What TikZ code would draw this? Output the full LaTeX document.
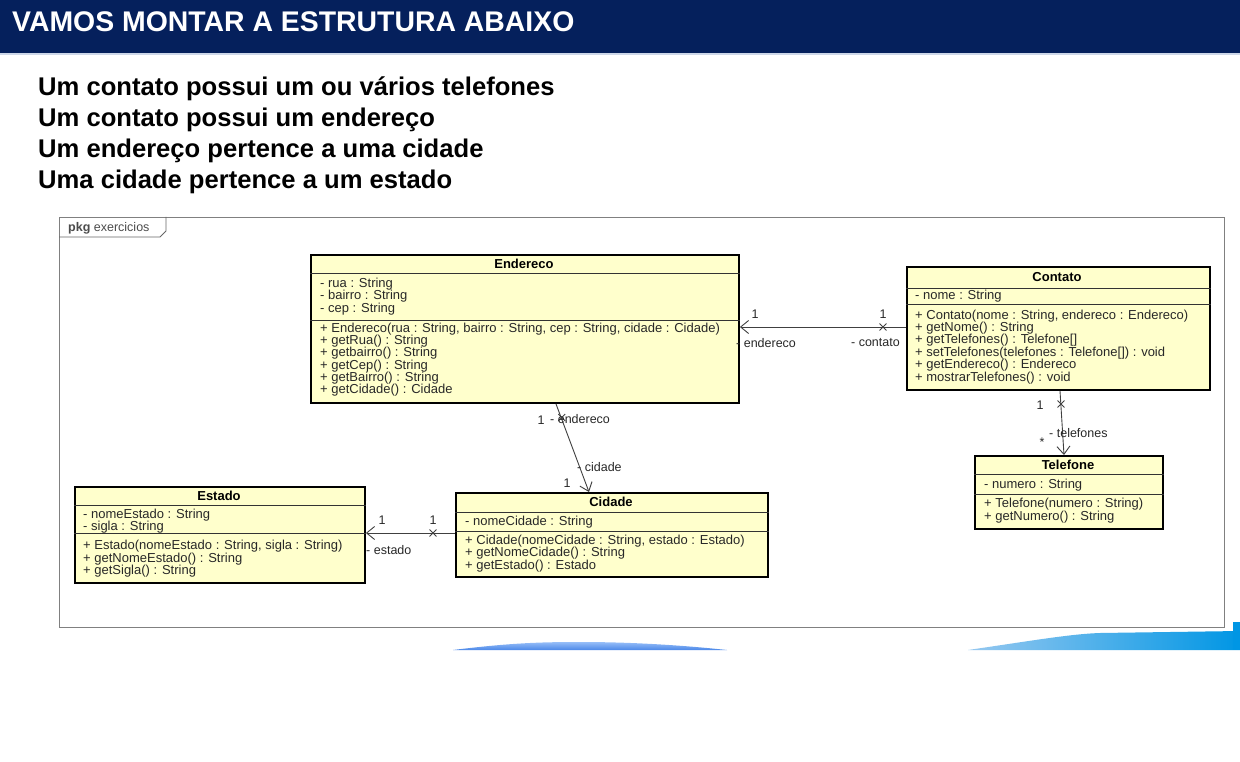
\documentclass[tikz,border=0pt]{standalone}
\usepackage{fontspec}
\setmainfont{Liberation Sans}
\usetikzlibrary{arrows.meta,shapes.misc}
\definecolor{navy}{RGB}{5,32,92}
\definecolor{umlfill}{RGB}{255,255,204}
\definecolor{umltext}{RGB}{40,40,40}
\definecolor{lineblue}{RGB}{205,215,232}
\definecolor{swA}{RGB}{150,190,248}
\definecolor{swB}{RGB}{75,135,232}
\definecolor{swC}{RGB}{150,200,240}
\definecolor{swD}{RGB}{0,150,228}
\begin{document}
\begin{tikzpicture}[x=1pt,y=-1pt,
  classbox/.style={draw=black, line width=1.9pt, fill=umlfill, inner sep=0pt, anchor=north west},
  member/.style={anchor=west, inner sep=0pt, font=\fontsize{13}{13}\selectfont, text=umltext},
  ctitle/.style={inner sep=0pt, font=\fontsize{13}{13}\selectfont\bfseries},
  divider/.style={line width=0.8pt, draw=black!80},
  assoc/.style={line width=0.9pt, draw=black!75, -{Straight Barb[length=8pt,width=13pt,line width=0.9pt]}},
  xmark/.style={cross out, draw=black!75, line width=0.9pt, minimum size=6pt, inner sep=0pt},
  lbl/.style={inner sep=0pt, font=\fontsize{12.5}{12.5}\selectfont, text=umltext},
  bigline/.style={anchor=base west, inner sep=0pt, font=\fontsize{25.6}{25.6}\selectfont\bfseries}
]
\useasboundingbox (0,0) rectangle (1240,762);
\fill[white] (0,0) rectangle (1240,762);

% header
\fill[navy] (0,0) rectangle (1240,53);
\draw[lineblue, line width=1.5pt] (0,54) -- (1240,54);
\node[anchor=base west, inner sep=0pt, text=white, font=\fontsize{28.4}{28.4}\selectfont\bfseries] (title) at (12,32) {VAMOS MONTAR A ESTRUTURA ABAIXO};

% statements
\node[bigline] (l1) at (38,96) {Um contato possui um ou vários telefones};
\node[bigline] (l2) at (38,127) {Um contato possui um endereço};
\node[bigline] (l3) at (38,158) {Um endereço pertence a uma cidade};
\node[bigline] (l4) at (38,189) {Uma cidade pertence a um estado};

% package frame
\node[draw=black!50, line width=1pt, minimum width=1165pt, minimum height=410pt, inner sep=0pt, anchor=north west] (pkg) at (59,217) {};
\draw[black!60, line width=0.9pt] (pkg.north west |- 0,237) -- (160,237) -- (166,231) -- (166,217);
\node[anchor=base west, inner sep=0pt, font=\fontsize{12.5}{12.5}\selectfont, text=black!70] (pkgname) at (68,232) {\textbf{pkg} exercicios};

% swooshes
\shade[top color=swA, bottom color=swB] (453,650) .. controls (510,643) and (540,642) .. (580,642) .. controls (630,642) and (680,645) .. (727,650) -- cycle;
\shade[left color=swC, right color=swD] (968,650) .. controls (1030,641) and (1070,634) .. (1100,633) -- (1240,631) -- (1240,650) -- cycle;
\fill[swD] (1233,622) rectangle (1240,650);

% Endereco
\node[classbox, minimum width=428pt, minimum height=148pt] (endereco) at (310,254) {};
\draw[divider] (endereco.west |- 0,273) -- (endereco.east |- 0,273);
\draw[divider] (endereco.west |- 0,320) -- (endereco.east |- 0,320);
\node[ctitle] (enderecoT) at (524,264) {Endereco};
\node[member] (e1) at (320,284) {- rua : String};
\node[member] (e2) at (320,296) {- bairro : String};
\node[member] (e3) at (320,309) {- cep : String};
\node[member] (e4) at (320,329) {+ Endereco(rua : String, bairro : String, cep : String, cidade : Cidade)};
\node[member] (e5) at (320,341) {+ getRua() : String};
\node[member] (e6) at (320,353) {+ getbairro() : String};
\node[member] (e7) at (320,366) {+ getCep() : String};
\node[member] (e8) at (320,378) {+ getBairro() : String};
\node[member] (e9) at (320,390) {+ getCidade() : Cidade};

% Contato
\node[classbox, minimum width=303pt, minimum height=123pt] (contato) at (906,266) {};
\draw[divider] (contato.west |- 0,288) -- (contato.east |- 0,288);
\draw[divider] (contato.west |- 0,304) -- (contato.east |- 0,304);
\node[ctitle] (contatoT) at (1057,277) {Contato};
\node[member] (c1) at (915,296) {- nome : String};
\node[member] (c2) at (915,316) {+ Contato(nome : String, endereco : Endereco)};
\node[member] (c3) at (915,328) {+ getNome() : String};
\node[member] (c4) at (915,340) {+ getTelefones() : Telefone[]};
\node[member] (c5) at (915,353) {+ setTelefones(telefones : Telefone[]) : void};
\node[member] (c6) at (915,365) {+ getEndereco() : Endereco};
\node[member] (c7) at (915,378) {+ mostrarTelefones() : void};

% Telefone
\node[classbox, minimum width=188pt, minimum height=73pt] (telefone) at (974,455) {};
\draw[divider] (telefone.west |- 0,474) -- (telefone.east |- 0,474);
\draw[divider] (telefone.west |- 0,494) -- (telefone.east |- 0,494);
\node[ctitle] (telefoneT) at (1068,465) {Telefone};
\node[member] (t1) at (984,485) {- numero : String};
\node[member] (t2) at (984,504) {+ Telefone(numero : String)};
\node[member] (t3) at (984,517) {+ getNumero() : String};

% Estado
\node[classbox, minimum width=290pt, minimum height=96pt] (estado) at (74,486) {};
\draw[divider] (estado.west |- 0,505) -- (estado.east |- 0,505);
\draw[divider] (estado.west |- 0,533) -- (estado.east |- 0,533);
\node[ctitle] (estadoT) at (219,496) {Estado};
\node[member] (s1) at (83,515) {- nomeEstado : String};
\node[member] (s2) at (83,527) {- sigla : String};
\node[member] (s3) at (83,546) {+ Estado(nomeEstado : String, sigla : String)};
\node[member] (s4) at (83,559) {+ getNomeEstado() : String};
\node[member] (s5) at (83,571) {+ getSigla() : String};

% Cidade
\node[classbox, minimum width=312pt, minimum height=84pt] (cidade) at (455,492) {};
\draw[divider] (cidade.west |- 0,512) -- (cidade.east |- 0,512);
\draw[divider] (cidade.west |- 0,531) -- (cidade.east |- 0,531);
\node[ctitle] (cidadeT) at (611,502) {Cidade};
\node[member] (d1) at (465,522) {- nomeCidade : String};
\node[member] (d2) at (465,541) {+ Cidade(nomeCidade : String, estado : Estado)};
\node[member] (d3) at (465,553) {+ getNomeCidade() : String};
\node[member] (d4) at (465,566) {+ getEstado() : Estado};

% Contato -> Endereco
\draw[assoc] (contato.west |- 0,327) -- (endereco.east |- 0,327);
\node[xmark] (x1) at (883,327) {};
\node[lbl] (m1a) at (755,314) {1};
\node[lbl] (m1b) at (883,314) {1};
\node[lbl, anchor=west] (r1a) at (736,343) {- endereco};
\node[lbl, anchor=east] (r1b) at (900,343) {- contato};

% Endereco -> Cidade
\draw[assoc] (endereco.south -| 556,0) -- (cidade.north -| 589,0);
\node[xmark] (x2) at (561.8,417.5) {};
\node[lbl] (m2a) at (541,420) {1};
\node[lbl, anchor=west] (r2a) at (550,419) {- endereco};
\node[lbl, anchor=west] (r2b) at (577,467) {- cidade};
\node[lbl] (m2b) at (567,483) {1};

% Contato -> Telefone
\draw[assoc] (contato.south -| 1060,0) -- (telefone.north -| 1064,0);
\node[xmark] (x3) at (1061,404) {};
\node[lbl] (m3a) at (1040,405) {1};
\node[lbl, anchor=west] (r3a) at (1049,433) {- telefones};
\node[lbl] (m3b) at (1042,442) {*};

% Cidade -> Estado
\draw[assoc] (cidade.west |- 0,533) -- (estado.east |- 0,533);
\node[xmark] (x4) at (433,533) {};
\node[lbl] (m4a) at (382,520) {1};
\node[lbl] (m4b) at (433,520) {1};
\node[lbl, anchor=west] (r4a) at (366,550) {- estado};
\end{tikzpicture}
\end{document}
